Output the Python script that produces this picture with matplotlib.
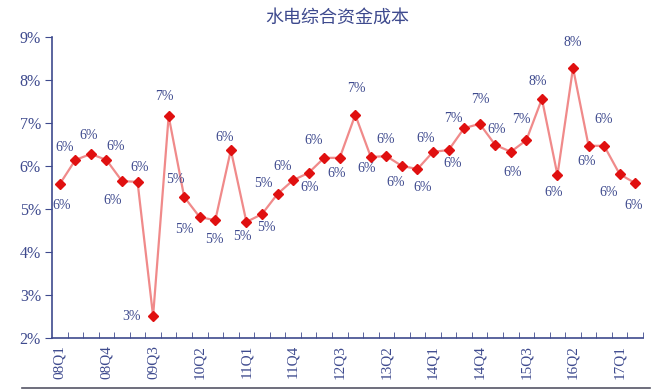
import matplotlib
matplotlib.use("Agg")
import matplotlib.pyplot as plt
import numpy as np

quarters = ["08Q1", "08Q2", "08Q3", "08Q4", "09Q1", "09Q2", "09Q3", "09Q4",
            "10Q1", "10Q2", "10Q3", "10Q4", "11Q1", "11Q2", "11Q3", "11Q4",
            "12Q1", "12Q2", "12Q3", "12Q4", "13Q1", "13Q2", "13Q3", "13Q4",
            "14Q1", "14Q2", "14Q3", "14Q4", "15Q1", "15Q2", "15Q3", "15Q4",
            "16Q1", "16Q2", "16Q3", "16Q4", "17Q1", "17Q2"]
cost = [5.58, 6.14, 6.28, 6.14, 5.65, 5.63, 2.51, 7.16,
        5.28, 4.81, 4.74, 6.37, 4.70, 4.88, 5.35, 5.67,
        5.84, 6.19, 6.19, 7.19, 6.21, 6.23, 6.00, 5.93,
        6.33, 6.37, 6.88, 6.98, 6.49, 6.33, 6.60, 7.56,
        5.79, 8.28, 6.47, 6.47, 5.81, 5.60]
yticks = [2, 3, 4, 5, 6, 7, 8, 9]

# label offsets from each marker, in pixels (right, down)
lab_dx = [2, -11, -2, 9, -9, 2, -22, -4, -9, -15, -1, -6, -4, 4, -14, -10,
          1, -11, -3, 1, -4, -1, -6, 5, -7, 4, -11, 1, 1, 2, -5, -4,
          -4, 0, -2, 0, -11, -2]
lab_dy = [21, -12, -18, -13, 19, -14, 0, -20, -17, 12, 19, -13, 15, 13, -10, -14,
          15, -17, 16, -26, 12, -17, 17, 18, -13, 13, -10, -24, -15, 21, -21, -17,
          17, -25, 16, -26, 18, 22]

navy = "#3e4a8e"
serif = "Liberation Serif"

fig = plt.figure(figsize=(6.55, 3.9), dpi=100)
ax = fig.add_axes([52 / 655, 1 - 338 / 390, 591 / 655, 301 / 390])

x = np.arange(len(quarters))
ax.plot(x, cost, color="#f08a8a", lw=1.6, zorder=2)
ax.plot(x, cost, ls="none", marker="D", ms=5, color="#e01010", zorder=3)

for xi, v, dx, dy in zip(x, cost, lab_dx, lab_dy):
    ax.annotate("%d%%" % round(v), (xi, v), xytext=(dx, -dy),
                textcoords="offset pixels", ha="center", va="center",
                fontsize=10, color=navy, family=serif)

ax.set_xlim(-0.5, len(quarters) - 0.5)
ax.set_ylim(2, 9)
ax.set_yticks(yticks)
ax.set_yticklabels(["%d%%" % t for t in yticks], fontsize=11.5, color=navy, family=serif)

ax.set_xticks(x[::3])
ax.set_xticklabels(quarters[::3], rotation=90, fontsize=11, color=navy, family=serif)
ax.set_xticks(np.arange(len(quarters)) + 0.5, minor=True)
ax.tick_params(axis="x", which="major", length=0, pad=5)
ax.tick_params(axis="x", which="minor", direction="in", length=4, color=navy)
ax.tick_params(axis="y", direction="out", length=5, color=navy, pad=3)

for s in ["top", "right"]:
    ax.spines[s].set_visible(False)
for s in ["left", "bottom"]:
    ax.spines[s].set_color(navy)
    ax.spines[s].set_linewidth(1.2)

fig.text(337 / 655, 1 - 18 / 390, "水电综合资金成本", ha="center", va="center",
         fontsize=13, color=navy, family=["Noto Sans CJK SC", "DejaVu Sans"])
fig.add_artist(plt.Line2D([22 / 655, 650 / 655], [2 / 390, 2 / 390],
                          color="#555566", lw=1.2, transform=fig.transFigure))

fig.savefig("out.png", dpi=100)
